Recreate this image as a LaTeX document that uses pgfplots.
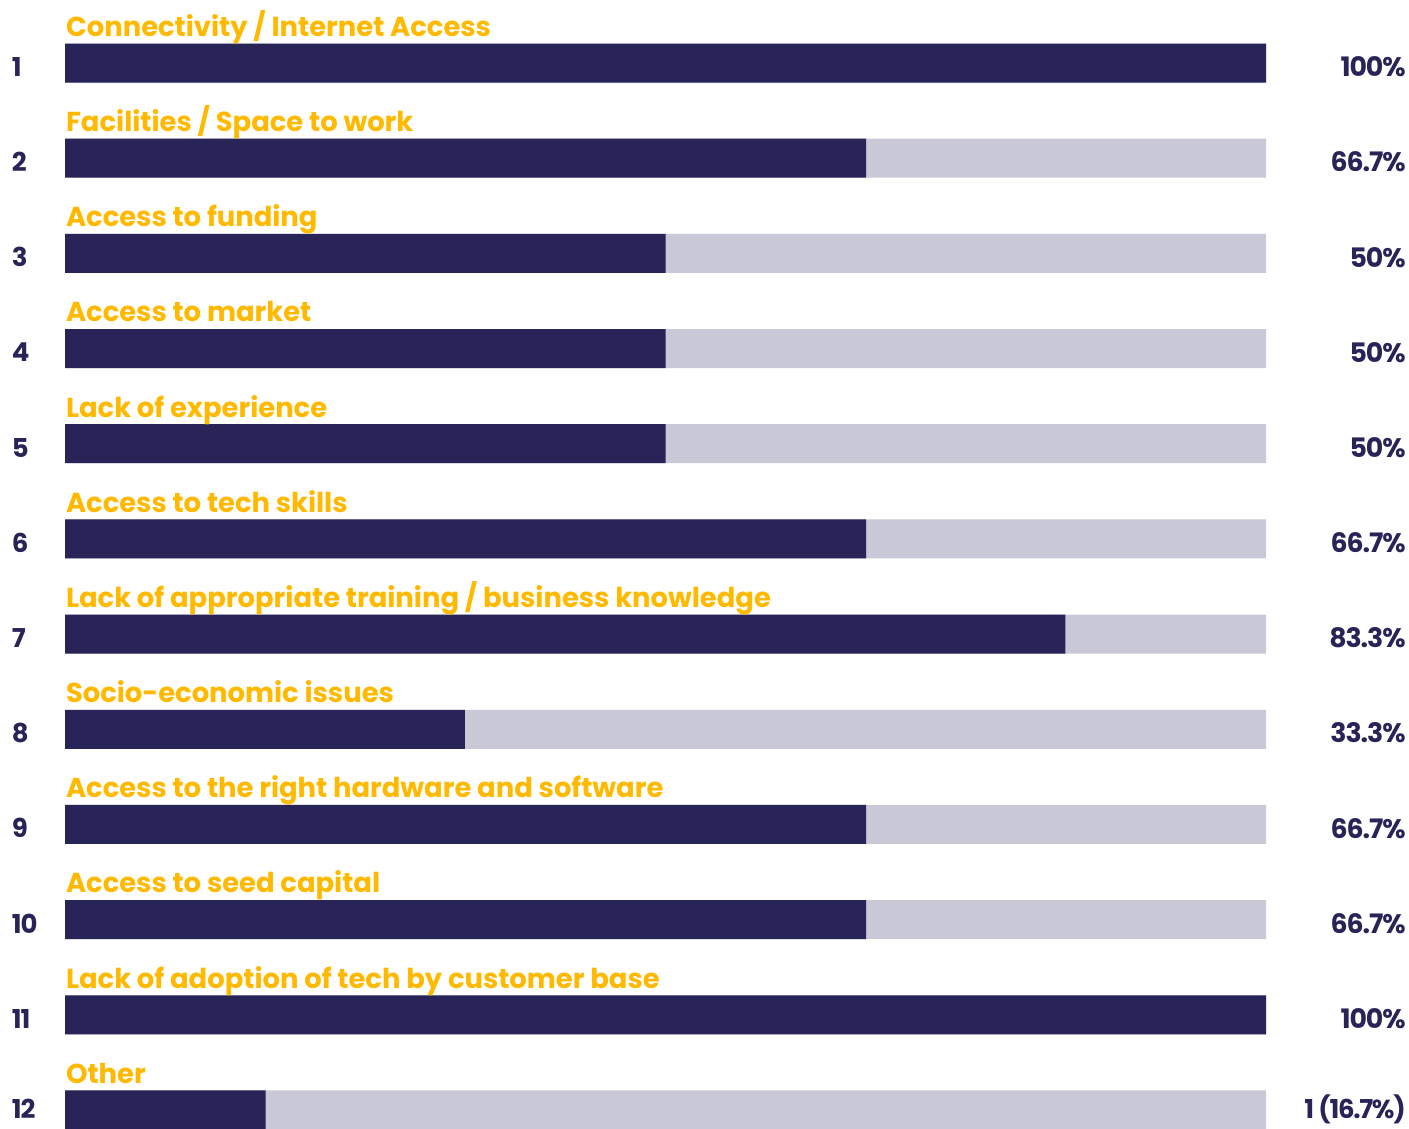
\documentclass[border=0pt]{standalone}
\usepackage{pgfplots}
\pgfplotsset{compat=1.18}
\usepackage{fontspec}
\setmainfont{Poppins}[UprightFont=* Bold, BoldFont=* Bold]
\definecolor{navy}{HTML}{282458}
\definecolor{lgrey}{HTML}{C9C8D6}
\definecolor{gold}{HTML}{FFB900}
\tikzset{
  cat/.style={anchor=base west, text=gold, inner sep=0pt, font=\fontsize{13.7pt}{16pt}\selectfont},
  rk/.style={anchor=west, text=navy, inner sep=0pt, font=\fontsize{13pt}{16pt}\selectfont\addfontfeatures{LetterSpace=-4}},
  pc/.style={anchor=east, text=navy, inner sep=0pt, font=\fontsize{13.4pt}{16pt}\selectfont\addfontfeatures{LetterSpace=-4}},
}
\begin{document}
\begin{tikzpicture}
\useasboundingbox (0,0) rectangle (704.5pt,564.5pt);
\begin{axis}[
  at={(32.5pt,0pt)}, anchor=south west,
  scale only axis, width=600.5pt, height=564.5pt,
  xmin=0, xmax=100, ymin=0.338, ymax=12.2, y dir=reverse,
  hide axis, clip=false,
  xbar, bar width=19.5pt, bar shift=0pt,
]
\addplot[draw=none, fill=lgrey] coordinates {(100,1) (100,2) (100,3) (100,4) (100,5) (100,6) (100,7) (100,8) (100,9) (100,10) (100,11) (100,12)};
\addplot[draw=none, fill=navy] coordinates {(100,1) (66.7,2) (50,3) (50,4) (50,5) (66.7,6) (83.3,7) (33.3,8) (66.7,9) (66.7,10) (100,11) (16.7,12)};
\node[cat] at (axis cs:0.05,0.72) {Connectivity / Internet Access};
\node[cat] at (axis cs:0.05,1.72) {Facilities / Space to work};
\node[cat] at (axis cs:0.05,2.72) {Access to funding};
\node[cat] at (axis cs:0.05,3.72) {Access to market};
\node[cat] at (axis cs:0.05,4.72) {Lack of experience};
\node[cat] at (axis cs:0.05,5.72) {Access to tech skills};
\node[cat] at (axis cs:0.05,6.72) {Lack of appropriate training / business knowledge};
\node[cat] at (axis cs:0.05,7.72) {Socio-economic issues};
\node[cat] at (axis cs:0.05,8.72) {Access to the right hardware and software};
\node[cat] at (axis cs:0.05,9.72) {Access to seed capital};
\node[cat] at (axis cs:0.05,10.72) {Lack of adoption of tech by customer base};
\node[cat] at (axis cs:0.05,11.72) {Other};
\node[rk] at (axis cs:-4.45,1.04) {1};
\node[rk] at (axis cs:-4.45,2.04) {2};
\node[rk] at (axis cs:-4.45,3.04) {3};
\node[rk] at (axis cs:-4.45,4.04) {4};
\node[rk] at (axis cs:-4.45,5.04) {5};
\node[rk] at (axis cs:-4.45,6.04) {6};
\node[rk] at (axis cs:-4.45,7.04) {7};
\node[rk] at (axis cs:-4.45,8.04) {8};
\node[rk] at (axis cs:-4.45,9.04) {9};
\node[rk] at (axis cs:-4.45,10.04) {10};
\node[rk] at (axis cs:-4.45,11.04) {11};
\node[rk] at (axis cs:-4.45,11.99) {12};
\node[pc] at (axis cs:111.66,1.04) {100\%};
\node[pc] at (axis cs:111.66,2.04) {66.7\%};
\node[pc] at (axis cs:111.66,3.04) {50\%};
\node[pc] at (axis cs:111.66,4.04) {50\%};
\node[pc] at (axis cs:111.66,5.04) {50\%};
\node[pc] at (axis cs:111.66,6.04) {66.7\%};
\node[pc] at (axis cs:111.66,7.04) {83.3\%};
\node[pc] at (axis cs:111.66,8.04) {33.3\%};
\node[pc] at (axis cs:111.66,9.04) {66.7\%};
\node[pc] at (axis cs:111.66,10.04) {66.7\%};
\node[pc] at (axis cs:111.66,11.04) {100\%};
\node[pc, font=\fontsize{13pt}{16pt}\selectfont\addfontfeatures{LetterSpace=-5}] at (axis cs:111.66,11.99) {1 (16.7\%)};
\end{axis}
\end{tikzpicture}
\end{document}
